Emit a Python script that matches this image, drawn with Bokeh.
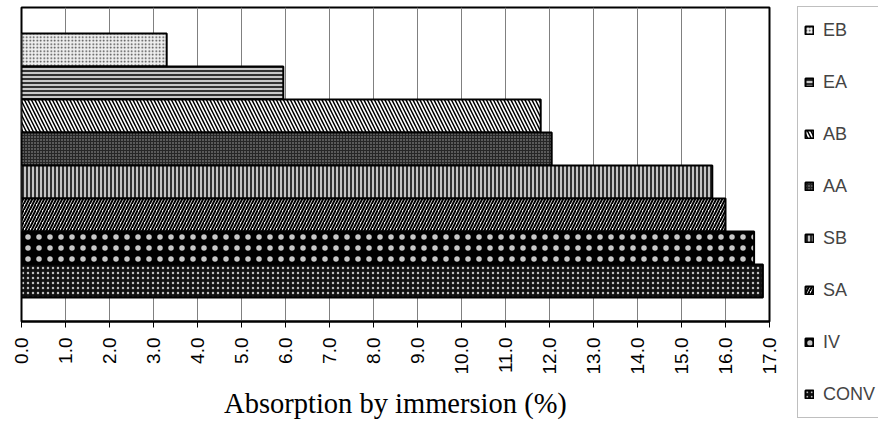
import math
from bokeh.plotting import figure
from bokeh.models import ColumnDataSource, Range1d, FixedTicker, Legend, LegendItem
from bokeh.embed import file_html
from bokeh.resources import INLINE

# ---- data ----
categories = ["EB", "EA", "AB", "AA", "SB", "SA", "IV", "CONV"]
absorption = [3.3, 5.95, 11.8, 12.05, 15.7, 16.0, 16.65, 16.85]
tick_values = list(range(0, 18))
tick_labels = ["%.1f" % t for t in tick_values]

# ---- styles (per bar) ----
fills = ["#eeeeee", "#c8c8c8", "#ffffff", "#262626", "#c4c4c4", "#ffffff", "#000000", "#111111"]
hatches = ["dot", "horizontal_line", "left_diagonal_line", "dot", "vertical_line",
           "right_diagonal_line", "dot", "dot"]
hatch_colors = ["#404040", "#000000", "#000000", "#a8a8a8", "#000000", "#000000", "#c8c8c8", "#bdbdbd"]
hatch_scales = [3.5, 4, 7, 3, 4, 6, 11, 5]
hatch_weights = [1, 1.5, 1.5, 1, 1.5, 2, 1, 1]

n = len(categories)
ypos = [n - i for i in range(n)]

src = ColumnDataSource(dict(cat=categories, val=absorption, y=ypos, fill=fills,
                            hatch=hatches, hcol=hatch_colors, hscale=hatch_scales,
                            hweight=hatch_weights))

p = figure(frame_width=748, frame_height=314, min_border_left=21, min_border_top=7,
           min_border_right=105, min_border_bottom=40,
           x_range=Range1d(0, 17), y_range=Range1d(-0.227, n + 1.288),
           output_backend="svg", toolbar_location=None)

r = p.hbar(y="y", left=0, right="val", height=1, source=src,
           fill_color="fill", line_color="black", line_width=2,
           hatch_pattern="hatch", hatch_color="hcol", hatch_scale="hscale",
           hatch_weight="hweight")

p.yaxis.visible = False
p.ygrid.visible = False
p.xgrid.grid_line_color = "#808080"
p.xgrid.grid_line_width = 1
p.outline_line_color = "black"
p.outline_line_width = 2

ax = p.xaxis[0]
ax.ticker = FixedTicker(ticks=tick_values)
ax.major_label_overrides = {t: l for t, l in zip(tick_values, tick_labels)}
ax.major_label_orientation = math.pi / 2
ax.major_label_text_font = "Liberation Sans"
ax.major_label_text_font_size = "19px"
ax.major_label_text_color = "black"
ax.major_label_standoff = 10
ax.major_tick_in = 0
ax.major_tick_out = 6
ax.major_tick_line_color = "black"
ax.minor_tick_line_color = None
ax.axis_line_color = "black"
ax.axis_line_width = 2
ax.axis_label = "Absorption by immersion (%)"
ax.axis_label_text_font = "Liberation Serif"
ax.axis_label_text_font_style = "normal"
ax.axis_label_text_font_size = "28.5px"
ax.axis_label_text_color = "black"
ax.axis_label_standoff = 11

items = [LegendItem(label=c, renderers=[r], index=i) for i, c in enumerate(categories)]
legend = Legend(items=items, location=(28, -97), orientation="vertical",
                glyph_width=10, glyph_height=10, label_height=34, spacing=18,
                padding=6, margin=0, label_standoff=9,
                label_text_font="Liberation Sans", label_text_font_size="18px",
                border_line_color="#808080", border_line_width=1,
                background_fill_color="white", background_fill_alpha=1)
p.add_layout(legend, "right")

open("out.html", "w").write(file_html(p, INLINE))
